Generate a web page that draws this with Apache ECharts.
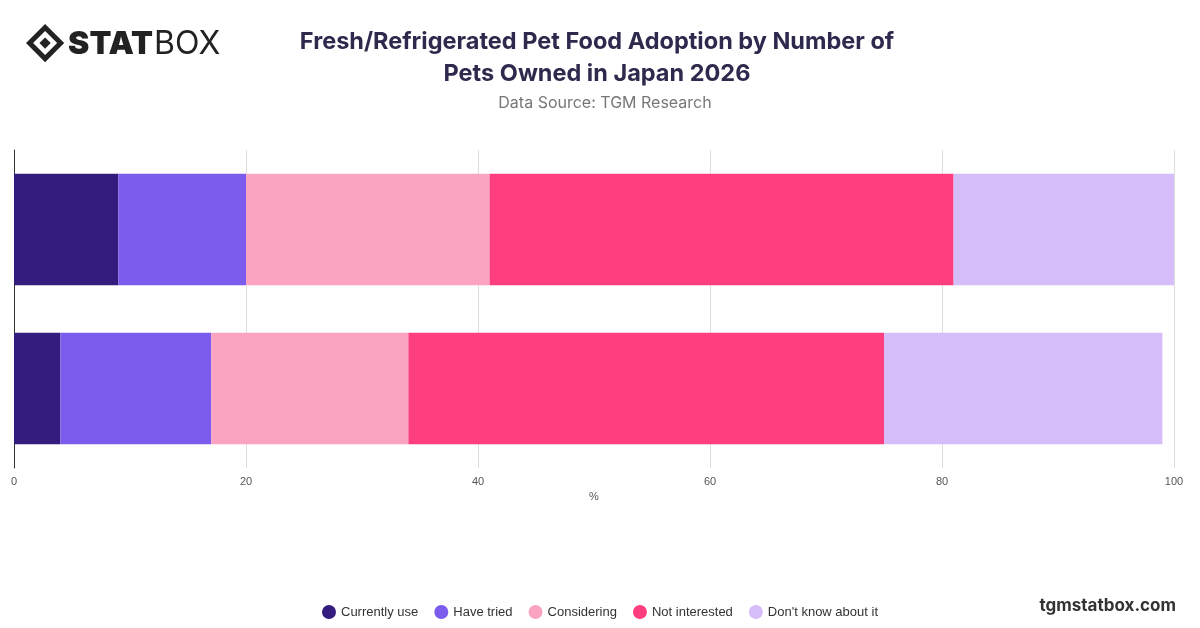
<!DOCTYPE html>
<html><head><meta charset="utf-8">
<script src="https://cdn.jsdelivr.net/npm/echarts@6/dist/echarts.min.js"></script>
<style>html,body{margin:0;padding:0;background:#fff}#c{width:1200px;height:628px}</style>
</head><body><div id="c"></div>
<script>
const categories = ['1 pet', '2 or more pets'];
const seriesNames = ['Currently use', 'Have tried', 'Considering', 'Not interested', "Don't know about it"];
const currentlyUse = [9, 4];
const haveTried = [11, 13];
const considering = [21, 17];
const notInterested = [40, 41];
const dontKnow = [19, 24];
const colors = ['#341c7f', '#7b5cec', '#fba4c2', '#ff3e80', '#d5bdfa'];
const values = [currentlyUse, haveTried, considering, notInterested, dontKnow];

const chart = echarts.init(document.getElementById('c'));
chart.setOption({
  animation: false,
  title: [{
    text: 'Fresh/Refrigerated Pet Food Adoption by Number of\nPets Owned in Japan 2026',
    left: 592, top: 21, textAlign: 'center',
    textStyle: {fontFamily: 'Inter', fontSize: 23.5, fontWeight: 'bold', color: '#2e2a4d', lineHeight: 32}
  }, {
    text: 'Data Source: TGM Research', left: 600, top: 90, textAlign: 'center',
    textStyle: {fontFamily: 'Inter', fontSize: 16, fontWeight: 'normal', color: '#777'}
  }],
  graphic: [
    {type: 'group', left: 26, top: 24, children: [
      {type: 'rect', shape: {x: 4, y: 4, width: 22, height: 22}, rotation: Math.PI/4, originX: 15, originY: 15, style: {fill: 'none', stroke: '#222', lineWidth: 5}},
      {type: 'rect', shape: {x: 11, y: 11, width: 8, height: 8}, rotation: Math.PI/4, originX: 15, originY: 15, style: {fill: '#222'}},
      {type: 'text', x: 38, y: 0, style: {text: 'STAT', font: '900 32px Inter', fill: '#222'}},
      {type: 'text', x: 124, y: 0, style: {text: 'BOX', font: '400 32px Inter', fill: '#222'}}
    ]},
    {type: 'text', right: 24, top: 597, style: {text: 'tgmstatbox.com', font: 'bold 17px Inter', fill: '#333'}}
  ],
  legend: {
    bottom: 4, left: 'center', icon: 'circle', itemWidth: 14, itemHeight: 14, itemGap: 16,
    textStyle: {fontFamily: 'Liberation Sans', fontSize: 13, color: '#333'}, data: seriesNames
  },
  grid: {left: 14, right: 26, top: 150, bottom: 160, containLabel: false},
  xAxis: {
    type: 'value', min: 0, max: 100, interval: 20, name: '%', nameLocation: 'middle', nameGap: 22,
    nameTextStyle: {fontFamily: 'Liberation Sans', fontSize: 11, color: '#555'},
    axisLabel: {fontFamily: 'Liberation Sans', fontSize: 11, color: '#555'},
    splitLine: {lineStyle: {color: '#ddd'}}
  },
  yAxis: {
    type: 'category', data: categories, inverse: true,
    axisLabel: {show: false}, axisTick: {show: false},
    axisLine: {show: true, lineStyle: {color: '#333'}}
  },
  series: seriesNames.map((n, i) => ({
    name: n, type: 'bar', stack: 'a', data: values[i], barWidth: '70%',
    itemStyle: {color: colors[i]}
  }))
});
</script></body></html>
